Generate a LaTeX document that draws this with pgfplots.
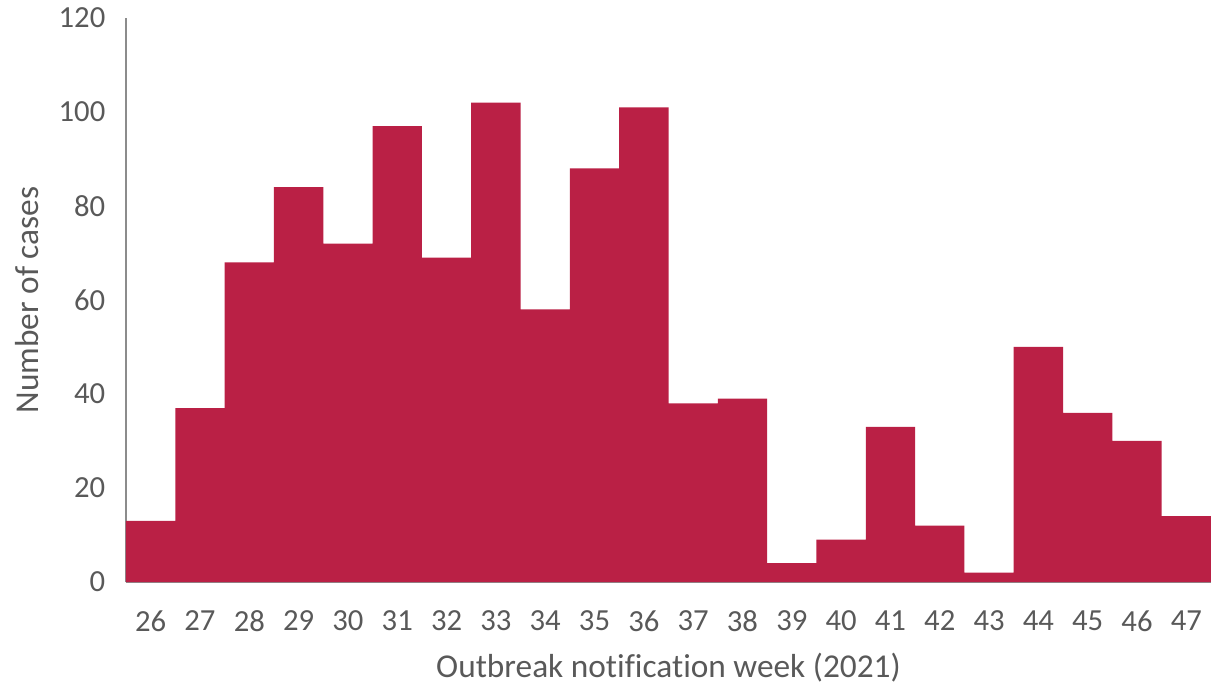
\documentclass[border=0pt]{standalone}
\usepackage{pgfplots}
\pgfplotsset{compat=1.18}
\usepackage{fontspec}
\setmainfont{Carlito}[Ligatures={NoCommon}]
\definecolor{barc}{HTML}{BA2045}
\definecolor{txt}{HTML}{595959}
\definecolor{axc}{HTML}{8C8C8C}
\begin{document}
\begin{tikzpicture}
\begin{axis}[name=ax, scale only axis, width=813.75pt, height=423pt,
  xmin=25.5, xmax=47.5, ymin=0, ymax=120,
  ytick={0,20,...,120}, xtick={26,...,47},
  axis lines=left, axis line style={-, axc, line width=1.4pt},
  major tick length=0pt, tick style={draw=none},
  tick label style={font=\fontsize{23}{27}\selectfont, text=txt},
  /pgf/number format/assume math mode=true,
  yticklabel style={xshift=-12pt},
  xticklabel style={yshift=-18pt},
  label style={font=\fontsize{25}{30}\selectfont, text=txt},
  xlabel={Outbreak notification week (2021)},
  ylabel={Number of cases},
  xlabel style={at={(rel axis cs:0.5,0)}, anchor=center, yshift=-64pt},
  ylabel style={at={(rel axis cs:0,0.5)}, anchor=center, yshift=74pt},
  clip=false,
]
\addplot[ybar, bar width=1, fill=barc, draw=none] coordinates {
(26,13) (27,37) (28,68) (29,84) (30,72) (31,97) (32,69) (33,102) (34,58) (35,88) (36,101)
(37,38) (38,39) (39,4) (40,9) (41,33) (42,12) (43,2) (44,50) (45,36) (46,30) (47,14)
};
\end{axis}
\pgfresetboundingbox
\path ([shift={(-94.5pt,-79.5pt)}]ax.south west) rectangle ([shift={(0pt,13.5pt)}]ax.north east);
\end{tikzpicture}
\end{document}
